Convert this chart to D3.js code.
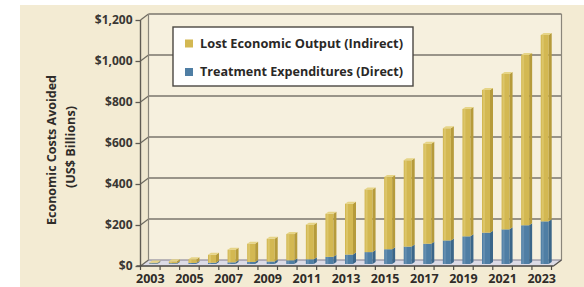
<!DOCTYPE html>
<html>
<head>
<meta charset="utf-8">
<script src="https://cdn.jsdelivr.net/npm/d3@7"></script>
<style>
	html,body{margin:0;padding:0;background:#fff;}
	svg{display:block;}
	text{font-family:"Open Sans","DejaVu Sans",sans-serif;font-weight:700;}
</style>
</head>
<body>
<div id="chart"></div>
<script>
// data (US$ billions)
var years=[2003,2004,2005,2006,2007,2008,2009,2010,2011,2012,2013,2014,2015,2016,2017,2018,2019,2020,2021,2022,2023]
var direct=[4,4,5,6,8,10,12,18,23,35,46,58,72,85,99,115,135,153,169,189,208]
var indirect=[3,9,18,39,62,89,111,128,169,210,248,306,352,421,488,547,621,696,758,831,909]
var yTicks=[0,200,400,600,800,1000,1200]
var xLabels=[2003,2005,2007,2009,2011,2013,2015,2017,2019,2021,2023]
var seriesNames={indirect:'Lost Economic Output (Indirect)', direct:'Treatment Expenditures (Direct)'}

var W=584, H=287
var dep={x:8, y:-6} // depth of the floor / back wall

var svg=d3.select('#chart').append('svg')
	.attr('width', W).attr('height', H)

// beige panel
svg.append('rect').attr('x',20).attr('y',5).attr('width',W-20).attr('height',H-5).attr('fill','#f3ebd3')

var x=d3.scaleBand().domain(years).range([140.5,551.5]).padding(0)
var yFront=d3.scaleLinear().domain([0,1200]).range([266,20])
var yBack=d3.scaleLinear().domain([0,1200]).range([266+dep.y,20+dep.y])
var yBar=d3.scaleLinear().domain([0,1200]).range([264,18])

var x0=x.range()[0], x1=x.range()[1]

// back wall
svg.append('rect')
	.attr('x',x0+dep.x).attr('y',yBack(1200))
	.attr('width',x1-x0+2).attr('height',yBack(0)-yBack(1200))
	.attr('fill','#f6f0de')

// left side wall
svg.append('path')
	.attr('d','M'+(x0)+','+yFront(1200)+'L'+(x0+dep.x)+','+yBack(1200)+'L'+(x0+dep.x)+','+yBack(0)+'L'+x0+','+yFront(0)+'Z')
	.attr('fill','#efe7cf')

// floor
svg.append('path')
	.attr('d','M'+x0+','+yFront(0)+'L'+(x0+dep.x)+','+yBack(0)+'L'+(x1+dep.x+2)+','+yBack(0)+'L'+(x1+2)+','+yFront(0)+'Z')
	.attr('fill','#dcdbe6').attr('stroke','#8d8a9a').attr('stroke-width',0.6)

// grid lines on back wall + diagonals on side wall
var grid=svg.append('g')
yTicks.forEach(function(t){
	grid.append('line')
		.attr('x1',x0+dep.x).attr('x2',x1+dep.x+2)
		.attr('y1',yBack(t)).attr('y2',yBack(t))
		.attr('stroke',t==0?'#8d8a9a':'#7a766c').attr('stroke-width',t==0?0.8:1.4)
	grid.append('line')
		.attr('x1',x0).attr('x2',x0+dep.x)
		.attr('y1',yFront(t)).attr('y2',yBack(t))
		.attr('stroke','#6e6a60').attr('stroke-width',1.2)
})
// wall borders
grid.append('line').attr('x1',x0+dep.x).attr('x2',x0+dep.x).attr('y1',yBack(1200)).attr('y2',yBack(0))
	.attr('stroke','#8a867b').attr('stroke-width',1.2)
grid.append('line').attr('x1',x1+dep.x+2).attr('x2',x1+dep.x+2).attr('y1',yBack(1200)).attr('y2',yBack(0))
	.attr('stroke','#8a867b').attr('stroke-width',1.2)
grid.append('line').attr('x1',x1+2).attr('x2',x1+dep.x+2).attr('y1',yFront(0)).attr('y2',yBack(0))
	.attr('stroke','#55524c').attr('stroke-width',1.2)

// bars
var table=years.map(function(yr,i){ return {year:yr, direct:direct[i], indirect:indirect[i]} })
var stack=d3.stack().keys(['direct','indirect'])(table)
var colors={
	direct:{front:'#4f7ea4', side:'#3b6689', top:'#7ea2bf'},
	indirect:{front:'#d3b852', side:'#b69b3b', top:'#e6d486'}
}
var bw=8, bd={x:3, y:-2}
var bars=svg.append('g')
stack.forEach(function(s){
	var c=colors[s.key]
	var g=bars.append('g').attr('class',s.key)
	s.forEach(function(d){
		var cx=x(d.data.year)+x.bandwidth()/2
		var left=cx-1, right=left+bw
		var yt=yBar(d[1]), yb=yBar(d[0])
		if(yb-yt<0.2) return
		g.append('rect').attr('x',left).attr('y',yt).attr('width',bw).attr('height',yb-yt).attr('fill',c.front)
		g.append('rect').attr('x',left+1).attr('y',yt).attr('width',2).attr('height',yb-yt).attr('fill',c.top).attr('opacity',0.45)
		g.append('path')
			.attr('d','M'+right+','+yt+'L'+(right+bd.x)+','+(yt+bd.y)+'L'+(right+bd.x)+','+(yb+bd.y)+'L'+right+','+yb+'Z')
			.attr('fill',c.side)
		if(s.key=='indirect' || d.data.indirect<1){
			g.append('path')
				.attr('d','M'+left+','+yt+'L'+(left+bd.x)+','+(yt+bd.y)+'L'+(right+bd.x)+','+(yt+bd.y)+'L'+right+','+yt+'Z')
				.attr('fill',c.top)
		}
	})
})

// front axis lines
svg.append('line').attr('x1',x0).attr('x2',x0).attr('y1',yFront(1200)).attr('y2',yFront(0))
	.attr('stroke','#5e5a52').attr('stroke-width',1.4)
svg.append('line').attr('x1',x0-4).attr('x2',x1+2).attr('y1',yFront(0)).attr('y2',yFront(0))
	.attr('stroke','#4f4c46').attr('stroke-width',1.6)

// y axis
var yAxis=d3.axisLeft(yFront).tickValues(yTicks).tickSize(5).tickPadding(3)
	.tickFormat(function(d){ return '$'+d3.format(',')(d) })
var ya=svg.append('g').attr('transform','translate('+x0+',0)').call(yAxis)
ya.select('.domain').remove()
ya.selectAll('line').attr('stroke','#5e5a52').attr('stroke-width',1.3)
ya.selectAll('text').attr('fill','#3a3733').style('font-size','12px').style('font-family','"Open Sans",sans-serif').style('font-weight',700)

// x axis: ticks on band boundaries, labels every other year
var xa=svg.append('g')
years.concat([2024]).forEach(function(yr,i){
	var xx=x0+i*x.step()
	xa.append('line').attr('x1',xx).attr('x2',xx).attr('y1',yFront(0)).attr('y2',yFront(0)+4)
		.attr('stroke','#4f4c46').attr('stroke-width',1.2)
})
xa.selectAll('text.xl').data(xLabels).enter().append('text')
	.attr('class','xl')
	.attr('x',function(d){ return x(d)+x.bandwidth()/2 })
	.attr('y',282.5)
	.attr('text-anchor','middle')
	.attr('fill','#2f2c29')
	.style('font-size','12.5px')
	.text(function(d){ return d })

// y axis title
var yt=svg.append('g').attr('transform','translate(0,150)')
yt.append('text').attr('transform','translate(56,0) rotate(-90)').attr('text-anchor','middle')
	.attr('fill','#2f2c29').style('font-size','11.5px')
	.attr('textLength',150).attr('lengthAdjust','spacingAndGlyphs')
	.text('Economic Costs Avoided')
yt.append('text').attr('transform','translate(75,-3) rotate(-90)').attr('text-anchor','middle')
	.attr('fill','#2f2c29').style('font-size','11.5px')
	.attr('textLength',82).attr('lengthAdjust','spacingAndGlyphs')
	.text('(US$ Billions)')

// legend
var lg=svg.append('g')
lg.append('rect').attr('x',173).attr('y',27).attr('width',240).attr('height',59)
	.attr('fill','#fff').attr('stroke','#4a4742').attr('stroke-width',1.4)
var items=[{key:'indirect', y:47.5},{key:'direct', y:76}]
items.forEach(function(it){
	lg.append('rect').attr('x',185).attr('y',it.y-8).attr('width',8).attr('height',8)
		.attr('fill',colors[it.key].front)
	lg.append('text').attr('x',200).attr('y',it.y)
		.attr('fill','#2a2826').style('font-size','12px')
		.attr('textLength',203).attr('lengthAdjust','spacingAndGlyphs')
		.text(seriesNames[it.key])
})
</script>
</body>
</html>
